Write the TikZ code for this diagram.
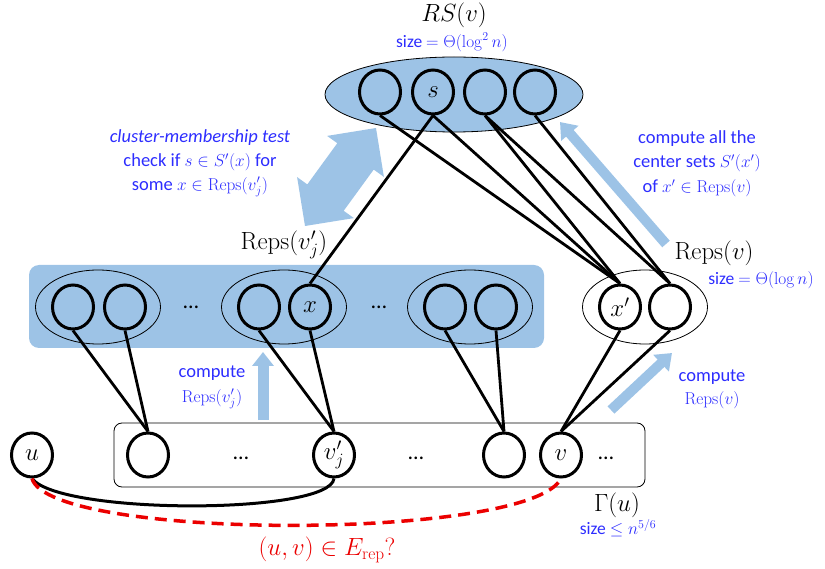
\documentclass[tikz,border=0pt]{standalone}
\usepackage[no-math]{fontspec}
\setmainfont{Carlito}
\usetikzlibrary{shapes.geometric,arrows.meta}
\definecolor{lblue}{RGB}{157,195,230}
\definecolor{tblue}{RGB}{45,45,255}
\definecolor{dred}{RGB}{235,0,0}
\begin{document}
\begin{tikzpicture}[x=1pt,y=-1pt,
  circ/.style={ellipse, draw, line width=3, minimum width=41, minimum height=44, inner sep=0, font=\fontsize{24}{24}\selectfont},
  wcirc/.style={circ, fill=white},
  grp/.style={ellipse, draw, line width=0.8, minimum width=125, minimum height=74},
  edge/.style={line width=2.8},
  btxt/.style={text=tblue, font=\fontsize{18.5}{18.5}\selectfont, inner sep=0},
  stxt/.style={text=tblue, font=\fontsize{17.5}{17.5}\selectfont, inner sep=0},
  lbl/.style={font=\fontsize{26}{26}\selectfont, inner sep=0},
  dotsn/.style={font=\fontsize{22}{22}\selectfont, inner sep=0},
  barrow/.style={draw=lblue, -{Triangle[length=15pt,width=22pt]}}]
\path[use as bounding box] (0,0) rectangle (825,569);

% containers
\node[fill=lblue, rounded corners=10, minimum width=515, minimum height=83, inner sep=0] (band) at (286.5,306.5) {};
\node[draw, rounded corners=8, line width=0.8, minimum width=531, minimum height=64, inner sep=0] (gam) at (379.5,455) {};
\node[ellipse, draw, fill=lblue, line width=0.8, minimum width=258, minimum height=75, inner sep=0] (rs) at (454,94.5) {};
\node[grp] (g1) at (98,307) {};
\node[grp] (g2) at (284,307) {};
\node[grp] (g3) at (470,307) {};
\node[grp] (g4) at (645,307) {};

% top circles
\node[circ] (t1) at (380,92) {};
\node[circ] (t2) at (433,92) {$s$};
\node[circ] (t3) at (485,92) {};
\node[circ] (t4) at (535,92) {};

% middle circles
\node[circ] (m1) at (73,307) {};
\node[circ] (m2) at (125,307) {};
\node[circ] (m3) at (259,307) {};
\node[circ] (m4) at (310,307) {$x$};
\node[circ] (m5) at (445,307) {};
\node[circ] (m6) at (496,307) {};
\node[wcirc] (r1) at (620,307) {$x'$};
\node[wcirc] (r2) at (670,307) {};

% bottom circles
\node[wcirc] (u) at (32,455) {$u$};
\node[wcirc] (b1) at (148,455) {};
\node[wcirc] (b2) at (334,455) {$v_j'$};
\node[wcirc] (b3) at (504,455) {};
\node[wcirc] (b4) at (561,455) {$v$};

% dots
\node[dotsn] (d1) at (191,307) {…};
\node[dotsn] (d2) at (379,307) {…};
\node[dotsn] (d3) at (241,458) {…};
\node[dotsn] (d4) at (416,458) {…};
\node[dotsn] (d5) at (606,458) {…};

% blue arrows
\fill[lblue] (376,128) -- (327.1,135.9) -- (337.3,143.2) -- (307.3,184.4) -- (297.1,177.1)
  -- (305,226) -- (353.9,218.1) -- (343.7,210.8) -- (373.7,169.6) -- (383.9,176.9) -- cycle;
\coordinate (aA1) at (666,244);
\coordinate (aA2) at (560,122);
\draw[barrow, line width=10] (aA1) -- (aA2);
\coordinate (aB1) at (263,420);
\coordinate (aB2) at (263,352);
\draw[barrow, line width=11, -{Triangle[length=14pt,width=21pt]}] (aB1) -- (aB2);
\coordinate (aC1) at (611,410);
\coordinate (aC2) at (672,353);
\draw[barrow, line width=10] (aC1) -- (aC2);

% edges
\draw[edge] (b1.north) -- (m1.south);
\draw[edge] (b1.north) -- (m2.south);
\draw[edge] (b2.north) -- (m3.south);
\draw[edge] (b2.north) -- (m4.south);
\draw[edge] (b3.north) -- (m5.south);
\draw[edge] (b3.north) -- (m6.south);
\draw[edge] (b4.north) -- (r1.south);
\draw[edge] (b4.north) -- (r2.south);
\draw[edge] (m4.north) -- (t2.south);
\draw[edge] (r1.north) -- (t1.south);
\draw[edge] (r1.north) -- (t2.south);
\draw[edge] (r1.north) -- (t3.south);
\draw[edge] (r2.north) -- (t3.south);
\draw[edge] (r2.north) -- (t4.south);

% bottom curves
\draw[line width=3] (u.south) .. controls (60,515) and (330,515) .. (b2.south);
\draw[dred, line width=3.5, dash pattern=on 12pt off 7pt] (u.south) .. controls (50,541) and (530,541) .. (b4.south);

% labels
\node[lbl] (rslab) at (454,15) {$RS(v)$};
\node[stxt] (rssize) at (452,42) {size $=\Theta(\log^2 n)$};
\node[btxt] (cmt1) at (200,138) {\textit{cluster-membership test}};
\node[btxt] (cmt2) at (200,162.5) {check if $s\in S'(x)$ for};
\node[btxt] (cmt3) at (200,187) {some $x\in\mathrm{Reps}(v_j')$};
\node[btxt] (cas1) at (697,139) {compute all the};
\node[btxt] (cas2) at (697,163.5) {center sets $S'(x')$};
\node[btxt] (cas3) at (697,188) {of $x'\in\mathrm{Reps}(v)$};
\node[lbl] (repsv) at (714,253) {$\mathrm{Reps}(v)$};
\node[stxt] (repsvsize) at (761,280) {size $=\Theta(\log n)$};
\node[lbl] (repsvj) at (284,245) {$\mathrm{Reps}(v_j')$};
\node[btxt] (c1) at (212,373) {compute};
\node[btxt] (c1b) at (212,399) {$\mathrm{Reps}(v_j')$};
\node[btxt] (c2) at (712,377) {compute};
\node[btxt] (c2b) at (712,400) {$\mathrm{Reps}(v)$};
\node[lbl] (gl) at (617,505) {$\Gamma(u)$};
\node[stxt] (gsize) at (618,528) {size $\le n^{5/6}$};
\node[lbl, text=dred] (q) at (327,550) {$(u,v)\in E_{\mathrm{rep}}?$};
\end{tikzpicture}
\end{document}
